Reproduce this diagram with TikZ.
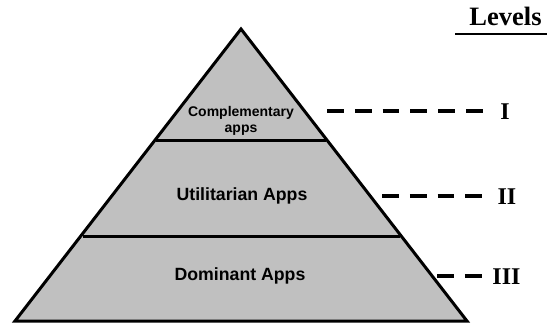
\documentclass[tikz,border=0pt]{standalone}
\usepackage{fontspec}
\newfontfamily\appfont{Liberation Sans}[BoldFont={Liberation Sans Bold}]
\newfontfamily\romfont{Liberation Serif}[BoldFont={Liberation Serif Bold}]
\definecolor{pyrfill}{RGB}{192,192,192}
\begin{document}
\begin{tikzpicture}[x=1pt,y=-1pt,
  pyramid/.style={fill=pyrfill,draw=black,line width=3pt,line join=miter},
  divider/.style={draw=black,line width=3pt},
  levline/.style={draw=black,line width=4pt,dash pattern=on 16.8pt off 11pt},
  apptext/.style={font=\appfont\bfseries\fontsize{17.7}{19}\selectfont,inner sep=0pt,anchor=center},
  smalltext/.style={font=\appfont\bfseries\fontsize{14}{16.5}\selectfont,inner sep=0pt,align=center,anchor=center},
  roman/.style={font=\romfont\bfseries\fontsize{24}{26}\selectfont,inner sep=0pt,anchor=base}]
\useasboundingbox (0,0) rectangle (547,327);

% pyramid outline
\coordinate (apex) at (241,29);
\coordinate (bl) at (15,321);
\coordinate (br) at (467,321);
\path[pyramid] (apex) -- (br) -- (bl) -- cycle;

% layer dividers
\coordinate (d1l) at (156,140);
\coordinate (d1r) at (326,140);
\coordinate (d2l) at (83,236);
\coordinate (d2r) at (400,236);
\draw[divider] (d1l) -- (d1r);
\draw[divider] (d2l) -- (d2r);

% layer names
\node[smalltext] (comp) at (241,121) {Complementary\\apps};
\node[apptext] (util) at (242,196) {Utilitarian Apps};
\node[apptext] (dom) at (240,276) {Dominant Apps};

% level heading
\node[font=\romfont\bfseries\fontsize{26.5}{28}\selectfont,inner sep=0pt,anchor=base] (levels) at (505.5,25) {Levels};
\coordinate (ul1) at (455,34);
\coordinate (ul2) at (547,34);
\draw[line width=2pt] (ul1) -- (ul2);

% level markers
\node[roman] (lvI) at (505,119) {I};
\node[roman] (lvII) at (507,204) {II};
\node[roman] (lvIII) at (506.5,284) {III};

\coordinate (s1) at (327,111);
\coordinate (e1) at (483,111);
\coordinate (s2) at (382,196);
\coordinate (e2) at (482,196);
\coordinate (s3) at (437,276);
\coordinate (e3) at (482,276);
\draw[levline] (s1) -- (e1);
\draw[levline] (s2) -- (e2);
\draw[levline] (s3) -- (e3);
\end{tikzpicture}
\end{document}
